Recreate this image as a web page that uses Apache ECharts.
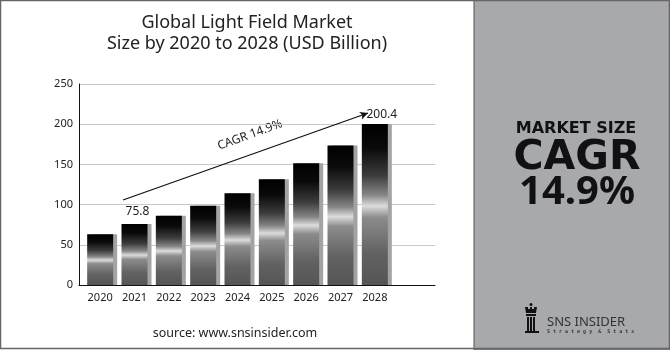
<!DOCTYPE html>
<html>
<head>
<meta charset="utf-8">
<script src="https://cdn.jsdelivr.net/npm/echarts@6/dist/echarts.min.js"></script>
<style>
  html, body { margin: 0; padding: 0; background: #fff; }
  #chart { width: 670px; height: 350px; }
</style>
</head>
<body>
<div id="chart"></div>
<script>
// chart data
const years = ['2020', '2021', '2022', '2023', '2024', '2025', '2026', '2027', '2028'];
const marketSize = [63.1, 75.8, 86.2, 98.7, 114.1, 131.5, 151.4, 173.4, 200.4];
const labelledYears = ['2021', '2028'];
const yTicks = { min: 0, max: 250, interval: 50 };

const chart = echarts.init(document.getElementById('chart'));

// dark top, light band in the middle, grey bottom
const barFill = new echarts.graphic.LinearGradient(0, 0, 0, 1, [
  { offset: 0, color: '#000000' },
  { offset: 0.15, color: '#0a0a0a' },
  { offset: 0.32, color: '#3c3c3c' },
  { offset: 0.44, color: '#858585' },
  { offset: 0.51, color: '#dcdcdc' },
  { offset: 0.58, color: '#8c8c8c' },
  { offset: 0.8, color: '#626262' },
  { offset: 1, color: '#555555' },
]);

const barData = marketSize.map((v, i) => {
  const item = { value: v };
  if (labelledYears.includes(years[i])) {
    item.label = {
      show: true,
      position: 'top',
      distance: years[i] === '2028' ? 3 : 6,
      offset: years[i] === '2028' ? [7, 0] : [3, 0],
      color: '#222',
      fontSize: 12,
      fontFamily: 'Noto Sans',
    };
  }
  return item;
});

const option = {
  backgroundColor: '#fff',
  animation: false,
  grid: [
    { left: 79, top: 84, width: 356, height: 201 },
    { left: 83, top: 84, width: 309, height: 201 },
  ],
  xAxis: [
    {
      gridIndex: 0,
      type: 'value',
      min: 0,
      max: 1,
      axisLine: { show: true, onZero: false, lineStyle: { color: '#111', width: 1 } },
      axisTick: { show: false },
      axisLabel: { show: false },
      splitLine: { show: false },
    },
    {
      gridIndex: 1,
      type: 'category',
      data: years,
      axisLine: { show: false },
      axisTick: { show: false },
      axisLabel: {
        color: '#222',
        fontSize: 11,
        fontFamily: 'Noto Sans',
        margin: 7,
      },
    },
  ],
  yAxis: [
    {
      gridIndex: 0,
      type: 'value',
      min: yTicks.min,
      max: yTicks.max,
      interval: yTicks.interval,
      axisLine: { show: true, lineStyle: { color: '#111', width: 1 } },
      axisTick: { show: false },
      axisLabel: { color: '#222', fontSize: 11, fontFamily: 'Noto Sans', margin: 6 },
      splitLine: { lineStyle: { color: '#c8c8c8', width: 1 } },
    },
    {
      gridIndex: 1,
      type: 'value',
      min: yTicks.min,
      max: yTicks.max,
      interval: yTicks.interval,
      show: false,
      splitLine: { show: false },
    },
  ],
  series: [
    {
      type: 'bar',
      xAxisIndex: 1,
      yAxisIndex: 1,
      barWidth: 26,
      data: barData,
      itemStyle: {
        color: barFill,
        shadowColor: '#a3a3a3',
        shadowOffsetX: 4,
        shadowOffsetY: 0,
        shadowBlur: 0,
      },
      markLine: {
        silent: true,
        symbol: ['none', 'arrow'],
        symbolSize: [6, 8],
        label: { show: false },
        lineStyle: { color: '#111', width: 1.3, type: 'solid' },
        data: [[{ x: 123, y: 200 }, { x: 368, y: 113 }]],
      },
    },
  ],
  graphic: [
    // right panel
    {
      type: 'rect',
      shape: { x: 474, y: 0, width: 196, height: 350 },
      style: { fill: '#a8a9ac', stroke: '#555', lineWidth: 1 },
      silent: true,
    },
    // outer frame
    {
      type: 'rect',
      shape: { x: 0.5, y: 0.5, width: 669, height: 348 },
      style: { fill: 'none', stroke: '#666', lineWidth: 1.5 },
      silent: true,
    },
    {
      type: 'text',
      x: 247,
      y: 23,
      style: {
        text: 'Global Light Field Market',
        fill: '#222',
        font: '18px "Noto Sans"',
        align: 'center',
        verticalAlign: 'middle',
      },
    },
    {
      type: 'text',
      x: 247,
      y: 44,
      style: {
        text: 'Size by 2020 to 2028 (USD Billion)',
        fill: '#222',
        font: '18px "Noto Sans"',
        align: 'center',
        verticalAlign: 'middle',
      },
    },
    {
      type: 'text',
      x: 250,
      y: 135,
      rotation: 20 * Math.PI / 180,
      style: {
        text: 'CAGR 14.9%',
        fill: '#222',
        font: '12px "Noto Sans"',
        align: 'center',
        verticalAlign: 'middle',
      },
    },
    {
      type: 'text',
      x: 235,
      y: 333,
      style: {
        text: 'source: www.snsinsider.com',
        fill: '#222',
        font: '12.5px "Noto Sans"',
        align: 'center',
        verticalAlign: 'middle',
      },
    },
    {
      type: 'text',
      x: 576,
      y: 129,
      style: {
        text: 'MARKET SIZE',
        fill: '#111',
        font: 'bold 16px "DejaVu Sans"',
        align: 'center',
        verticalAlign: 'middle',
      },
    },
    {
      type: 'text',
      x: 577,
      y: 158,
      style: {
        text: 'CAGR',
        fill: '#111',
        font: 'bold 41px "DejaVu Sans"',
        align: 'center',
        verticalAlign: 'middle',
      },
    },
    {
      type: 'text',
      x: 577,
      y: 193,
      style: {
        text: '14.9%',
        fill: '#111',
        font: 'bold 40px "Noto Sans"',
        align: 'center',
        verticalAlign: 'middle',
      },
    },
    // logo: little rook
    {
      type: 'group',
      x: 525,
      y: 303,
      silent: true,
      children: [
        { type: 'circle', shape: { cx: 6, cy: 1.5, r: 1.5 }, style: { fill: '#111' } },
        { type: 'polygon', shape: { points: [[0, 4], [3, 4], [3, 6], [5, 6], [5, 4], [7, 4], [7, 6], [9, 6], [9, 4], [12, 4], [11, 10], [1, 10]] }, style: { fill: '#111' } },
        { type: 'rect', shape: { x: 1, y: 11, width: 10, height: 2 }, style: { fill: '#111' } },
        { type: 'rect', shape: { x: 2, y: 14, width: 2, height: 14 }, style: { fill: '#111' } },
        { type: 'rect', shape: { x: 5, y: 14, width: 2, height: 14 }, style: { fill: '#111' } },
        { type: 'rect', shape: { x: 8, y: 14, width: 2, height: 14 }, style: { fill: '#111' } },
        { type: 'rect', shape: { x: 0, y: 28, width: 14, height: 2 }, style: { fill: '#111' } },
      ],
    },
    {
      type: 'text',
      x: 547,
      y: 322,
      style: {
        text: 'SNS INSIDER',
        fill: '#333',
        font: '13px "Noto Sans"',
        align: 'left',
        verticalAlign: 'middle',
      },
    },
    {
      type: 'text',
      x: 547,
      y: 332,
      style: {
        text: 'S t r a t e g y  &  S t a t s',
        fill: '#333',
        font: 'bold 5px "DejaVu Sans Mono"',
        align: 'left',
        verticalAlign: 'middle',
      },
    },
  ],
};

chart.setOption(option);
</script>
</body>
</html>
